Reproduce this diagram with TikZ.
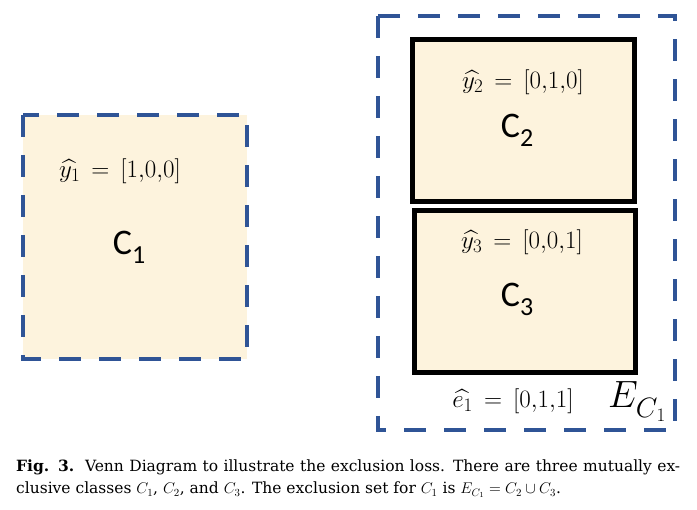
\RequirePackage{fix-cm}
\documentclass[tikz,border=0pt]{standalone}
\usepackage{amsmath}
\usepackage{fontspec}
\newfontfamily\cfont{Carlito}
\newfontfamily\capfont{DejaVu Serif}
\definecolor{dashblue}{RGB}{47,84,150}
\definecolor{cream}{RGB}{253,243,221}
\tikzset{
  dashbox/.style={draw=dashblue,line width=4.5pt,dash pattern=on 22pt off 18pt},
  classbox/.style={draw=black,line width=5pt,fill=cream},
  lbl/.style={inner sep=0pt,font=\fontsize{25}{25}\selectfont},
  cls/.style={inner sep=0pt,font=\cfont\fontsize{36}{36}\selectfont},
}
\newcommand{\clabel}[1]{C\raisebox{-9pt}{\fontsize{26}{26}\selectfont #1}}
\newcommand{\subn}[1]{\text{\fontsize{19}{19}\selectfont #1}}
\newcommand{\vlab}[3]{$\widehat{#1_{\subn{#2}}}\,=\,[#3]$}
\begin{document}
\begin{tikzpicture}[x=1pt,y=-1pt]
\useasboundingbox (0,0) rectangle (697,510);
% left class C1
\fill[cream] (23,115) rectangle (247,359);
\draw[dashbox] (23,115) rectangle (247,359);
\node[lbl] (y1) at (120,171) {\vlab{y}{1}{1{,}0{,}0}};
\node[cls] (c1) at (129,247) {\clabel{1}};
% exclusion set
\draw[dashbox] (378,16) rectangle (675,430);
\draw[classbox] (412.5,39.5) rectangle (634.5,202);
\draw[classbox] (414,210.5) rectangle (635,372.5);
\node[lbl] (y2) at (523,82) {\vlab{y}{2}{0{,}1{,}0}};
\node[cls] (c2) at (517,130) {\clabel{2}};
\node[lbl] (y3) at (522,242) {\vlab{y}{3}{0{,}0{,}1}};
\node[cls] (c3) at (517,299) {\clabel{3}};
\node[lbl] (e1) at (513,401) {\vlab{e}{1}{0{,}1{,}1}};
\node[inner sep=0pt,anchor=base west] (ec) at (608,408)
  {{\fontsize{38}{38}\selectfont$E$}\kern-2pt\raisebox{-10pt}{\fontsize{28}{28}\selectfont$C$\kern-1pt\raisebox{-4pt}{\fontsize{19}{19}\selectfont 1}}};
% caption
\node[anchor=base west,inner sep=0pt,text width=664pt,align=justify,
      font=\capfont\fontsize{15.5}{22}\selectfont] (cap) at (16,472)
  {\textbf{Fig. 3.}\ \ Venn Diagram to illustrate the exclusion loss. There are three mutually ex-\linebreak clusive classes $C_1$, $C_2$, and $C_3$. The exclusion set for $C_1$ is $E_{C_1} = C_2 \cup C_3$.};
\end{tikzpicture}
\end{document}
